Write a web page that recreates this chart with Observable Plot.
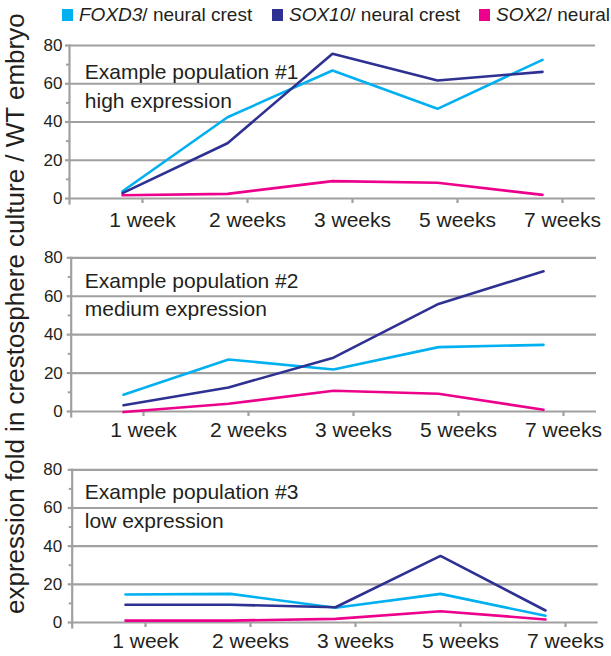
<!DOCTYPE html>
<html>
<head>
<meta charset="utf-8">
<script src="https://cdn.jsdelivr.net/npm/d3@7"></script>
<script src="https://cdn.jsdelivr.net/npm/@observablehq/plot@0.6"></script>
<style>
  html, body { margin: 0; padding: 0; background: #fff; }
  body { width: 611px; height: 656px; overflow: hidden; font-family: "Liberation Sans", Arial, sans-serif; color: #231F20; }
  #root { position: relative; width: 611px; height: 656px; }
  .panel { position: absolute; left: 0; }
  .leg-sq { position: absolute; width: 11px; height: 12px; }
  .leg-tx { position: absolute; font-size: 19px; line-height: 19px; white-space: nowrap; }
  .leg-tx i { font-style: italic; }
  #ytitle { position: absolute; white-space: nowrap; font-size: 26px; line-height: 26px; transform-origin: 0 0; }
</style>
</head>
<body>
<div id="root"></div>
<script>
// ---- data ----
const weeks = ["1 week", "2 weeks", "3 weeks", "5 weeks", "7 weeks"];
const genes = ["FOXD3", "SOX10", "SOX2"];
const geneSuffix = ["/ neural crest", "/ neural crest", "/ neural"];
const geneColors = ["#00B0F0", "#2E3192", "#EC008C"];
const panelLine1 = ["Example population #1", "Example population #2", "Example population #3"];
const panelLine2 = ["high expression", "medium expression", "low expression"];
const yTicks = [0, 20, 40, 60, 80];
const yMinorTicks = [10, 30, 50, 70];
const yTitle = "expression fold in crestosphere culture / WT embryo";

const pop1FOXD3 = [3.8, 42.5, 66.9, 46.9, 72.5];
const pop1SOX10 = [2.8, 28.9, 75.7, 61.7, 66.2];
const pop1SOX2  = [1.7, 2.4, 9.1, 8.2, 1.9];

const pop2FOXD3 = [8.7, 27.1, 21.9, 33.5, 34.7];
const pop2SOX10 = [3.3, 12.5, 28.0, 56.0, 73.0];
const pop2SOX2  = [-0.3, 4.0, 10.8, 9.2, 0.9];

const pop3FOXD3 = [14.7, 15.0, 7.7, 15.0, 3.5];
const pop3SOX10 = [9.3, 9.3, 8.0, 34.9, 6.3];
const pop3SOX2  = [1.0, 1.0, 1.9, 5.9, 1.6];

const populations = [
  [pop1FOXD3, pop1SOX10, pop1SOX2],
  [pop2FOXD3, pop2SOX10, pop2SOX2],
  [pop3FOXD3, pop3SOX10, pop3SOX2]
];

// ---- layout ----
const gridColor = "#A0A0A0";
const textColor = "#231F20";
const layout = [
  {top: 30,  height: 205, mt: 15,   mb: 37, ml: 69,   mr: 16,   labelDy: 13.4, tickPad: 9,   yPad: 3},
  {top: 242, height: 205, mt: 15.3, mb: 36, ml: 70.7, mr: 15,   labelDy: 9.5,  tickPad: 6,   yPad: 4.4},
  {top: 454, height: 202, mt: 15.3, mb: 34, ml: 71.7, mr: 13.3, labelDy: 9.1,  tickPad: 5.5, yPad: 6}
];

const root = document.getElementById("root");

function tableFor(series) {
  const rows = [];
  series.forEach((vals, g) => {
    vals.forEach((v, i) => rows.push({week: weeks[i], gene: genes[g], value: v}));
  });
  return rows;
}

populations.forEach((series, p) => {
  const L = layout[p];
  const chart = Plot.plot({
    width: 611,
    height: L.height,
    marginTop: L.mt,
    marginBottom: L.mb,
    marginLeft: L.ml,
    marginRight: L.mr,
    style: {fontFamily: '"Liberation Sans", Arial, sans-serif', background: "transparent", overflow: "visible", color: textColor},
    x: {type: "point", domain: weeks, padding: 0.5, axis: null, label: null},
    y: {domain: [0, 80], axis: null, label: null},
    color: {domain: genes, range: geneColors},
    marks: [
      Plot.ruleY(yTicks, {stroke: gridColor, strokeWidth: 2.2}),
      Plot.axisY(yTicks, {label: null, tickSize: 4, tickPadding: L.yPad, stroke: gridColor, strokeWidth: 2.2, fill: textColor, fontSize: 17}),
      Plot.axisY(yMinorTicks, {label: null, tickSize: 3, tickFormat: () => "", stroke: gridColor, strokeWidth: 2}),
      Plot.frame({anchor: "left", stroke: gridColor, strokeWidth: 2.2, insetBottom: -5}),
      Plot.axisX({label: null, tickSize: 5, tickPadding: L.tickPad, stroke: gridColor, strokeWidth: 2.2, fill: textColor, fontSize: 21, dx: 20}),
      Plot.line(tableFor(series), {x: "week", y: "value", z: "gene", stroke: "gene", strokeWidth: 2.6, strokeLinejoin: "miter"}),
      Plot.text([panelLine1[p] + "\n" + panelLine2[p]], {
        text: d => d, frameAnchor: "top-left", textAnchor: "start", lineAnchor: "top",
        dx: 84.3 - L.ml, dy: L.labelDy, fontSize: 21, lineHeight: 1.37, fill: textColor
      })
    ]
  });
  chart.classList.add("panel");
  chart.style.top = L.top + "px";
  root.appendChild(chart);
});

// ---- legend ----
const legX = [62, 272, 479];
genes.forEach((g, i) => {
  const sq = document.createElement("div");
  sq.className = "leg-sq";
  sq.style.left = legX[i] + "px";
  sq.style.top = "9px";
  sq.style.background = geneColors[i];
  root.appendChild(sq);
  const tx = document.createElement("div");
  tx.className = "leg-tx";
  tx.style.left = (legX[i] + 17) + "px";
  tx.style.top = "5px";
  tx.innerHTML = "<i>" + g + "</i>" + geneSuffix[i];
  root.appendChild(tx);
});

// ---- y title ----
const yt = document.createElement("div");
yt.id = "ytitle";
yt.textContent = yTitle;
root.appendChild(yt);
yt.style.left = "2px";
yt.style.top = "614px";
yt.style.transform = "rotate(-90deg)";
</script>
</body>
</html>
